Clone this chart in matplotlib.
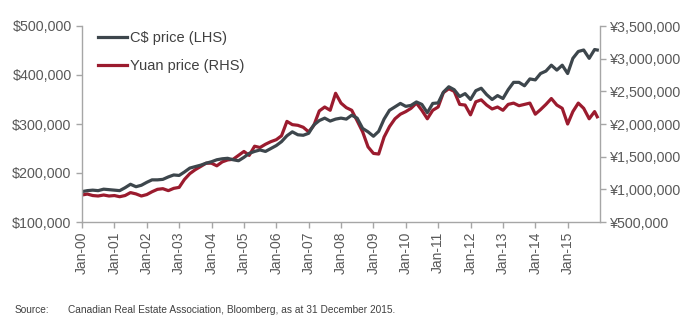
import matplotlib
matplotlib.use("Agg")
import matplotlib.pyplot as plt
import matplotlib.dates as mdates
from matplotlib.ticker import FuncFormatter, MultipleLocator
import pandas as pd

plt.rcParams['font.family'] = ['Liberation Sans', 'DejaVu Sans']

# readings every two months, Jan-00 .. Nov-15, plus Dec-15
dates = pd.date_range('2000-01-01', periods=96, freq='2MS').append(pd.DatetimeIndex(['2015-12-01']))

# C$ price, thousands
cad_price = [162, 164, 165, 164, 167, 166,
             165, 164, 170, 177, 172, 175,
             181, 186, 186, 187, 192, 196,
             195, 202, 210, 213, 216, 220,
             223, 227, 229, 230, 227, 225,
             232, 240, 244, 247, 244, 250,
             256, 264, 276, 284, 278, 277,
             281, 298, 307, 312, 306, 310,
             312, 310, 318, 312, 291, 284,
             275, 285, 310, 328, 335, 342,
             336, 338, 345, 340, 323, 342,
             343, 365, 376, 370, 356, 362,
             350, 368, 373, 360, 350, 358,
             352, 370, 385, 385, 378, 392,
             390, 403, 408, 420, 410, 420,
             403, 434, 448, 451, 434, 452,
             451]

# Yuan price, thousands
yuan_price = [913, 928, 905, 898, 913, 898,
              905, 887, 905, 950, 930, 898,
              920, 963, 1000, 1010, 980, 1015,
              1030, 1150, 1240, 1300, 1350, 1400,
              1400, 1360, 1420, 1450, 1460, 1520,
              1580, 1520, 1660, 1640, 1690, 1730,
              1760, 1820, 2040, 1990, 1980, 1950,
              1880, 1980, 2200, 2260, 2210, 2470,
              2320, 2250, 2210, 2050, 1880, 1650,
              1550, 1540, 1800, 1960, 2080, 2150,
              2190, 2240, 2320, 2210, 2080, 2210,
              2260, 2480, 2540, 2500, 2300, 2290,
              2140, 2340, 2370, 2290, 2230, 2260,
              2210, 2300, 2320, 2280, 2300, 2320,
              2150, 2220, 2300, 2390, 2290, 2240,
              2000, 2190, 2320, 2240, 2080, 2190,
              2110]

tick_years = list(range(2000, 2016))

gray = '#3d464c'
red = '#9b1b2e'
axis_col = '#a6a6a6'
text_col = '#595959'

fig = plt.figure(figsize=(7, 3.27), dpi=100)
ax = fig.add_axes([82 / 700, 1 - 222 / 327, 518 / 700, 196 / 327])
ax2 = ax.twinx()

l1, = ax.plot(dates, [v * 1000 for v in cad_price], color=gray, lw=2.3, label='C$ price (LHS)')
l2, = ax2.plot(dates, [v * 1000 for v in yuan_price], color=red, lw=2.3, label='Yuan price (RHS)')
ax.set_zorder(2)
ax.patch.set_visible(False)

ax.set_xlim(pd.Timestamp('2000-01-01'), pd.Timestamp('2016-01-01'))
ax.set_ylim(100000, 500000)
ax2.set_ylim(500000, 3500000)
ax.yaxis.set_major_locator(MultipleLocator(100000))
ax2.yaxis.set_major_locator(MultipleLocator(500000))
ax.yaxis.set_major_formatter(FuncFormatter(lambda v, p: '${:,.0f}'.format(v)))
ax2.yaxis.set_major_formatter(FuncFormatter(lambda v, p: '¥{:,.0f}'.format(v)))

ax.set_xticks([pd.Timestamp(f'{y}-01-01') for y in tick_years])
ax.xaxis.set_major_formatter(mdates.DateFormatter('Jan-%y'))
for lab in ax.get_xticklabels():
    lab.set_rotation(90)

for a in (ax, ax2):
    a.spines['top'].set_visible(False)
    for s in ('left', 'right', 'bottom'):
        a.spines[s].set_color(axis_col)
        a.spines[s].set_linewidth(1)
    a.tick_params(colors=axis_col, labelcolor=text_col, labelsize=10.3, length=4, width=1)
ax.spines['right'].set_visible(False)
ax2.spines['left'].set_visible(False)
ax2.spines['bottom'].set_visible(False)
ax.tick_params(axis='x', labelsize=10, pad=3)

leg = ax.legend(handles=[l1, l2], loc='upper left', bbox_to_anchor=(0.02, 1.005),
                frameon=False, fontsize=10.5, handlelength=2.0, handletextpad=0.15,
                labelspacing=0.95, borderaxespad=0)
for t in leg.get_texts():
    t.set_color('#404040')

fig.text(15 / 700, 1 - 310 / 327, 'Source:', fontsize=7.3, color='#404040', va='center')
fig.text(68 / 700, 1 - 310 / 327,
         'Canadian Real Estate Association, Bloomberg, as at 31 December 2015.',
         fontsize=7.3, color='#404040', va='center')

fig.savefig('out.png', dpi=100)
